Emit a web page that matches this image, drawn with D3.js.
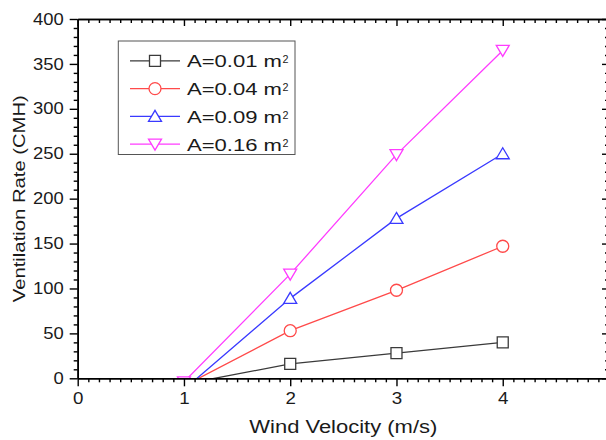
<!DOCTYPE html>
<html>
<head>
<meta charset="utf-8">
<script src="https://cdn.jsdelivr.net/npm/d3@7"></script>
<style>
html,body{margin:0;padding:0;background:#fff;}
svg{display:block;}
text{font-family:"Liberation Sans",Arial,sans-serif;fill:#1a1a1a;}
</style>
</head>
<body>
<svg id="chart" width="606" height="440"></svg>
<script>
// ---- data ----
const windVelocity = [1, 2, 3, 4];
const seriesLabels = ["A=0.01 m", "A=0.04 m", "A=0.09 m", "A=0.16 m"];
const area001 = [-6.5, 16, 28, 40];
const area004 = [-8.5, 53, 98, 147];
const area009 = [-12.5, 89, 178, 250];
const area016 = [-4, 116, 249, 365];
const xTickLabels = [0, 1, 2, 3, 4];
const yTickLabels = [0, 50, 100, 150, 200, 250, 300, 350, 400];

const seriesValues = [area001, area004, area009, area016];
const seriesColors = ["#3a3a3a", "#ff4a4a", "#3a3aff", "#ff3cff"];
const seriesShapes = ["square", "circle", "up", "down"];

const svg = d3.select("#chart");
const L = 77.7, R = 609, T = 19, B = 378.3;
const x = d3.scaleLinear().domain([0, 5]).range([L, R]);
const y = d3.scaleLinear().domain([0, 400]).range([B, T]);

function stretch(sel, factor) {
  sel.each(function () {
    const len = this.getComputedTextLength();
    d3.select(this).attr("textLength", len * factor).attr("lengthAdjust", "spacingAndGlyphs");
  });
}
function fitTo(sel, width) {
  sel.attr("textLength", width).attr("lengthAdjust", "spacingAndGlyphs");
}

svg.append("defs").append("clipPath").attr("id", "plotclip")
  .append("rect").attr("x", L).attr("y", T).attr("width", R - L).attr("height", B - T);

function markerPath(shape) {
  if (shape === "square") return "M-5.5,-5.5H5.5V5.5H-5.5Z";
  if (shape === "circle") return "M6,0A6,6 0 1,1 -6,0A6,6 0 1,1 6,0Z";
  if (shape === "up") return "M0,-6L6.5,5L-6.5,5Z";
  return "M0,6L6.5,-5L-6.5,-5Z";
}

// ---- series ----
const plot = svg.append("g").attr("clip-path", "url(#plotclip)");
const line = d3.line().x((d, i) => x(windVelocity[i])).y(d => y(d));
seriesValues.forEach((vals, s) => {
  plot.append("path").attr("d", line(vals)).attr("fill", "none")
    .attr("stroke", seriesColors[s]).attr("stroke-width", 1.3);
  plot.selectAll(null).data(vals).enter().append("path")
    .attr("d", markerPath(seriesShapes[s]))
    .attr("transform", (d, i) => `translate(${x(windVelocity[i])},${y(d)})`)
    .attr("fill", "#fff").attr("stroke", seriesColors[s]).attr("stroke-width", 1.3);
});

// ---- axes ----
const xMinor = d3.range(1, 50).map(v => v / 10).filter(v => Math.abs(v - Math.round(v)) > 1e-6);
const yMinor = d3.range(10, 400, 10).filter(v => v % 50 !== 0);
const xMajor = [0, 1, 2, 3, 4, 5];

function styleAxis(g) {
  g.select(".domain").attr("stroke", "#000").attr("stroke-width", 1.6);
  g.selectAll(".tick line").attr("stroke", "#000").attr("stroke-width", 1.4);
  g.selectAll(".tick text").attr("font-size", 16).attr("fill", "#1a1a1a")
    .style("font-family", "'Liberation Sans', Arial, sans-serif");
}

// bottom
svg.append("g").attr("transform", `translate(0,${B})`)
  .call(d3.axisBottom(x).tickValues(xMinor).tickSize(4).tickFormat("").tickSizeOuter(0)).call(styleAxis);
const gx = svg.append("g").attr("transform", `translate(0,${B})`)
  .call(d3.axisBottom(x).tickValues(xTickLabels).tickSize(8).tickPadding(6).tickFormat(d3.format("d")).tickSizeOuter(0)).call(styleAxis);
stretch(gx.selectAll(".tick text"), 1.17);
// top
svg.append("g").attr("transform", `translate(0,${T})`)
  .call(d3.axisBottom(x).tickValues(xMinor).tickSize(4).tickFormat("").tickSizeOuter(0)).call(styleAxis);
svg.append("g").attr("transform", `translate(0,${T})`)
  .call(d3.axisBottom(x).tickValues(xMajor).tickSize(7).tickFormat("").tickSizeOuter(0)).call(styleAxis);
// left
svg.append("g").attr("transform", `translate(${L},0)`)
  .call(d3.axisLeft(y).tickValues(yMinor).tickSize(4).tickFormat("").tickSizeOuter(0)).call(styleAxis);
const gy = svg.append("g").attr("transform", `translate(${L},0)`)
  .call(d3.axisLeft(y).tickValues(yTickLabels).tickSize(8).tickPadding(6).tickFormat(d3.format("d")).tickSizeOuter(0)).call(styleAxis);
stretch(gy.selectAll(".tick text"), 1.15);
// right
svg.append("g").attr("transform", `translate(${R},0)`)
  .call(d3.axisLeft(y).tickValues(yMinor).tickSize(4).tickFormat("").tickSizeOuter(0)).call(styleAxis);
svg.append("g").attr("transform", `translate(${R},0)`)
  .call(d3.axisLeft(y).tickValues(yTickLabels).tickSize(7).tickFormat("").tickSizeOuter(0)).call(styleAxis);

// ---- axis titles ----
svg.append("text").attr("x", 343.3).attr("y", 432.5).attr("text-anchor", "middle")
  .attr("font-size", 17.5).text("Wind Velocity (m/s)").call(fitTo, 188);
svg.append("text").attr("transform", `translate(24.5,${(T + B) / 2}) rotate(-90)`)
  .attr("text-anchor", "middle").attr("font-size", 16.5).text("Ventilation Rate (CMH)").call(fitTo, 207);

// ---- legend ----
const lg = svg.append("g");
lg.append("rect").attr("x", 118.3).attr("y", 41).attr("width", 176.7).attr("height", 113.5)
  .attr("fill", "#fff").attr("stroke", "#555").attr("stroke-width", 1);
seriesLabels.forEach((lab, s) => {
  const cy = 60.8 + s * 27.8;
  lg.append("line").attr("x1", 130).attr("x2", 180).attr("y1", cy).attr("y2", cy)
    .attr("stroke", seriesColors[s]).attr("stroke-width", 1.3);
  lg.append("path").attr("d", markerPath(seriesShapes[s])).attr("transform", `translate(155,${cy})`)
    .attr("fill", "#fff").attr("stroke", seriesColors[s]).attr("stroke-width", 1.3);
  lg.append("text").attr("x", 187).attr("y", cy + 6.3).attr("font-size", 17).text(lab).call(fitTo, 95);
  lg.append("text").attr("x", 282.5).attr("y", cy + 2.5).attr("font-size", 11).text("2").call(fitTo, 6);
});
</script>
</body>
</html>
